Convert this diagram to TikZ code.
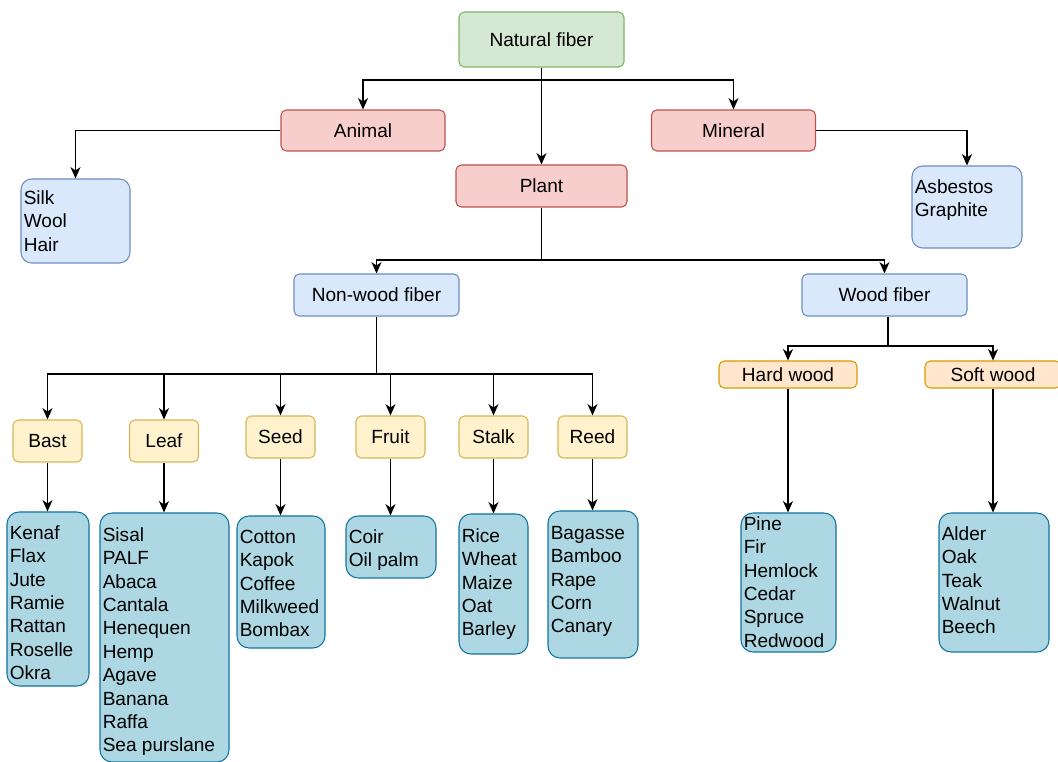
\documentclass[tikz,border=0pt]{standalone}
\usepackage{fontspec}
\setmainfont{Liberation Sans}
\usetikzlibrary{arrows.meta}
\definecolor{gfill}{HTML}{D5E8D4}\definecolor{gline}{HTML}{82B366}
\definecolor{rfill}{HTML}{F8CECC}\definecolor{rline}{HTML}{B85450}
\definecolor{bfill}{HTML}{DAE8FC}\definecolor{bline}{HTML}{6C8EBF}
\definecolor{yfill}{HTML}{FFF2CC}\definecolor{yline}{HTML}{D6B656}
\definecolor{ofill}{HTML}{FFE6CC}\definecolor{oline}{HTML}{D79B00}
\definecolor{tfill}{HTML}{ADD8E3}\definecolor{tline}{HTML}{10739E}
\tikzset{
  base/.style={draw, line width=0.8pt, rounded corners=4pt, inner sep=0pt,
    font=\fontsize{14.3}{17.55}\selectfont},
  green/.style={base, fill=gfill, draw=gline},
  red/.style={base, fill=rfill, draw=rline},
  blue/.style={base, fill=bfill, draw=bline},
  yel/.style={base, fill=yfill, draw=yline},
  ora/.style={base, fill=ofill, draw=oline},
  bluelist/.style={base, fill=bfill, draw=bline, rounded corners=8pt},
  teal/.style={base, fill=tfill, draw=tline, rounded corners=9pt},
  listtext/.style={inner sep=0pt, align=left, anchor=north west,
    font=\fontsize{14.3}{17.55}\selectfont},
  arr/.style={line width=1pt, -{Stealth[length=8.5pt,width=7.5pt,inset=2.5pt]}},
  ln/.style={line width=1pt}
}
\begin{document}
\begin{tikzpicture}[x=0.75pt,y=-0.75pt]
\useasboundingbox (0,0) rectangle (1058,762);
% top levels
\node[green, minimum width=123.75pt, minimum height=41.25pt] (nf) at (541.5,39.5) {Natural fiber};
\node[red, minimum width=123pt, minimum height=30.75pt] (animal) at (363,130.5) {Animal};
\node[red, minimum width=123pt, minimum height=30.75pt] (mineral) at (733.5,130.5) {Mineral};
\node[red, minimum width=128.25pt, minimum height=31.5pt] (plant) at (541.5,186) {Plant};
\node[bluelist, minimum width=81.75pt, minimum height=63pt] (silk) at (75.5,221) {};
\node[listtext] (silkt) at (23.5,187.6) {\strut Silk\\Wool\\Hair};
\node[bluelist, minimum width=82.5pt, minimum height=61.5pt] (asb) at (967,207) {};
\node[listtext] (asbt) at (914.5,176.6) {\strut Asbestos\\Graphite};
\node[blue, minimum width=123.75pt, minimum height=31.5pt] (nw) at (376.5,295) {Non-wood fiber};
\node[blue, minimum width=123.75pt, minimum height=31.5pt] (wood) at (884.5,295) {Wood fiber};
\node[ora, minimum width=103.5pt, minimum height=20.25pt] (hard) at (788,374.5) {Hard wood};
\node[ora, minimum width=102pt, minimum height=20.25pt] (soft) at (993,374.5) {Soft wood};
% categories
\node[yel, minimum width=51.75pt, minimum height=31.5pt] (bast) at (47.5,441) {Bast};
\node[yel, minimum width=51.75pt, minimum height=31.5pt] (leaf) at (164,441) {Leaf};
\node[yel, minimum width=51.75pt, minimum height=31.5pt] (seed) at (280.5,437) {Seed};
\node[yel, minimum width=51.75pt, minimum height=31.5pt] (fruit) at (390.5,437) {Fruit};
\node[yel, minimum width=51.75pt, minimum height=31.5pt] (stalk) at (493.5,437) {Stalk};
\node[yel, minimum width=51.75pt, minimum height=31.5pt] (reed) at (592.5,437) {Reed};
% lists
\node[teal, minimum width=61.5pt, minimum height=130.5pt] (kenaf) at (48,599) {};
\node[listtext] (kenaft) at (9.5,522.6) {\strut Kenaf\\Flax\\Jute\\Ramie\\Rattan\\Roselle\\Okra};
\node[teal, minimum width=96.75pt, minimum height=186.75pt] (sisal) at (164.5,637.5) {};
\node[listtext] (sisalt) at (102.5,524.6) {\strut Sisal\\PALF\\Abaca\\Cantala\\Henequen\\Hemp\\Agave\\Banana\\Raffa\\Sea purslane};
\node[teal, minimum width=66pt, minimum height=99pt] (cotton) at (281,582) {};
\node[listtext] (cottont) at (239.5,526.6) {\strut Cotton\\Kapok\\Coffee\\Milkweed\\Bombax};
\node[teal, minimum width=67.5pt, minimum height=46.5pt] (coir) at (391,547) {};
\node[listtext] (coirt) at (348.5,526.6) {\strut Coir\\Oil palm};
\node[teal, minimum width=51.75pt, minimum height=105pt] (rice) at (493.5,584) {};
\node[listtext] (ricet) at (461.5,525.6) {\strut Rice\\Wheat\\Maize\\Oat\\Barley};
\node[teal, minimum width=67.5pt, minimum height=110.25pt] (bag) at (593,584.5) {};
\node[listtext] (bagt) at (550.5,522.6) {\strut Bagasse\\Bamboo\\Rape\\Corn\\Canary};
\node[teal, minimum width=71.25pt, minimum height=104.25pt] (pine) at (788.5,582.5) {};
\node[listtext] (pinet) at (743.5,513.6) {\strut Pine\\Fir\\Hemlock\\Cedar\\Spruce\\Redwood};
\node[teal, minimum width=82.5pt, minimum height=104.25pt] (alder) at (994,582.5) {};
\node[listtext] (aldert) at (941.5,523.6) {\strut Alder\\Oak\\Teak\\Walnut\\Beech};
% junctions
\coordinate (j1) at (541.5,80);
\coordinate (j2) at (541.5,260);
\coordinate (j3) at (376.5,374);
\coordinate (j4) at (888,346);
% connectors
\draw[arr] (nf.south) -- (plant.north);
\draw[arr] (nf.south |- j1) -| (animal.north);
\draw[arr] (nf.south |- j1) -| (mineral.north);
\draw[arr] (animal.west) -| (silk.north);
\draw[arr] (mineral.east) -| (asb.north);
\draw[ln] (plant.south) -- (j2);
\draw[arr] (j2) -| (nw.north);
\draw[arr] (j2) -| (wood.north);
\draw[ln] (nw.south) -- (j3);
\foreach \c in {bast,leaf,seed,fruit,stalk,reed} {\draw[arr] (j3) -| (\c.north);}
\draw[ln] (wood.south -| j4) -- (j4);
\draw[arr] (j4) -| (hard.north);
\draw[arr] (j4) -| (soft.north);
\draw[arr] (bast.south) -- (bast.south |- kenaf.north);
\draw[arr] (leaf.south) -- (leaf.south |- sisal.north);
\draw[arr] (seed.south) -- (seed.south |- cotton.north);
\draw[arr] (fruit.south) -- (fruit.south |- coir.north);
\draw[arr] (stalk.south) -- (stalk.south |- rice.north);
\draw[arr] (reed.south) -- (reed.south |- bag.north);
\draw[arr] (hard.south) -- (hard.south |- pine.north);
\draw[arr] (soft.south) -- (soft.south |- alder.north);
\end{tikzpicture}
\end{document}
